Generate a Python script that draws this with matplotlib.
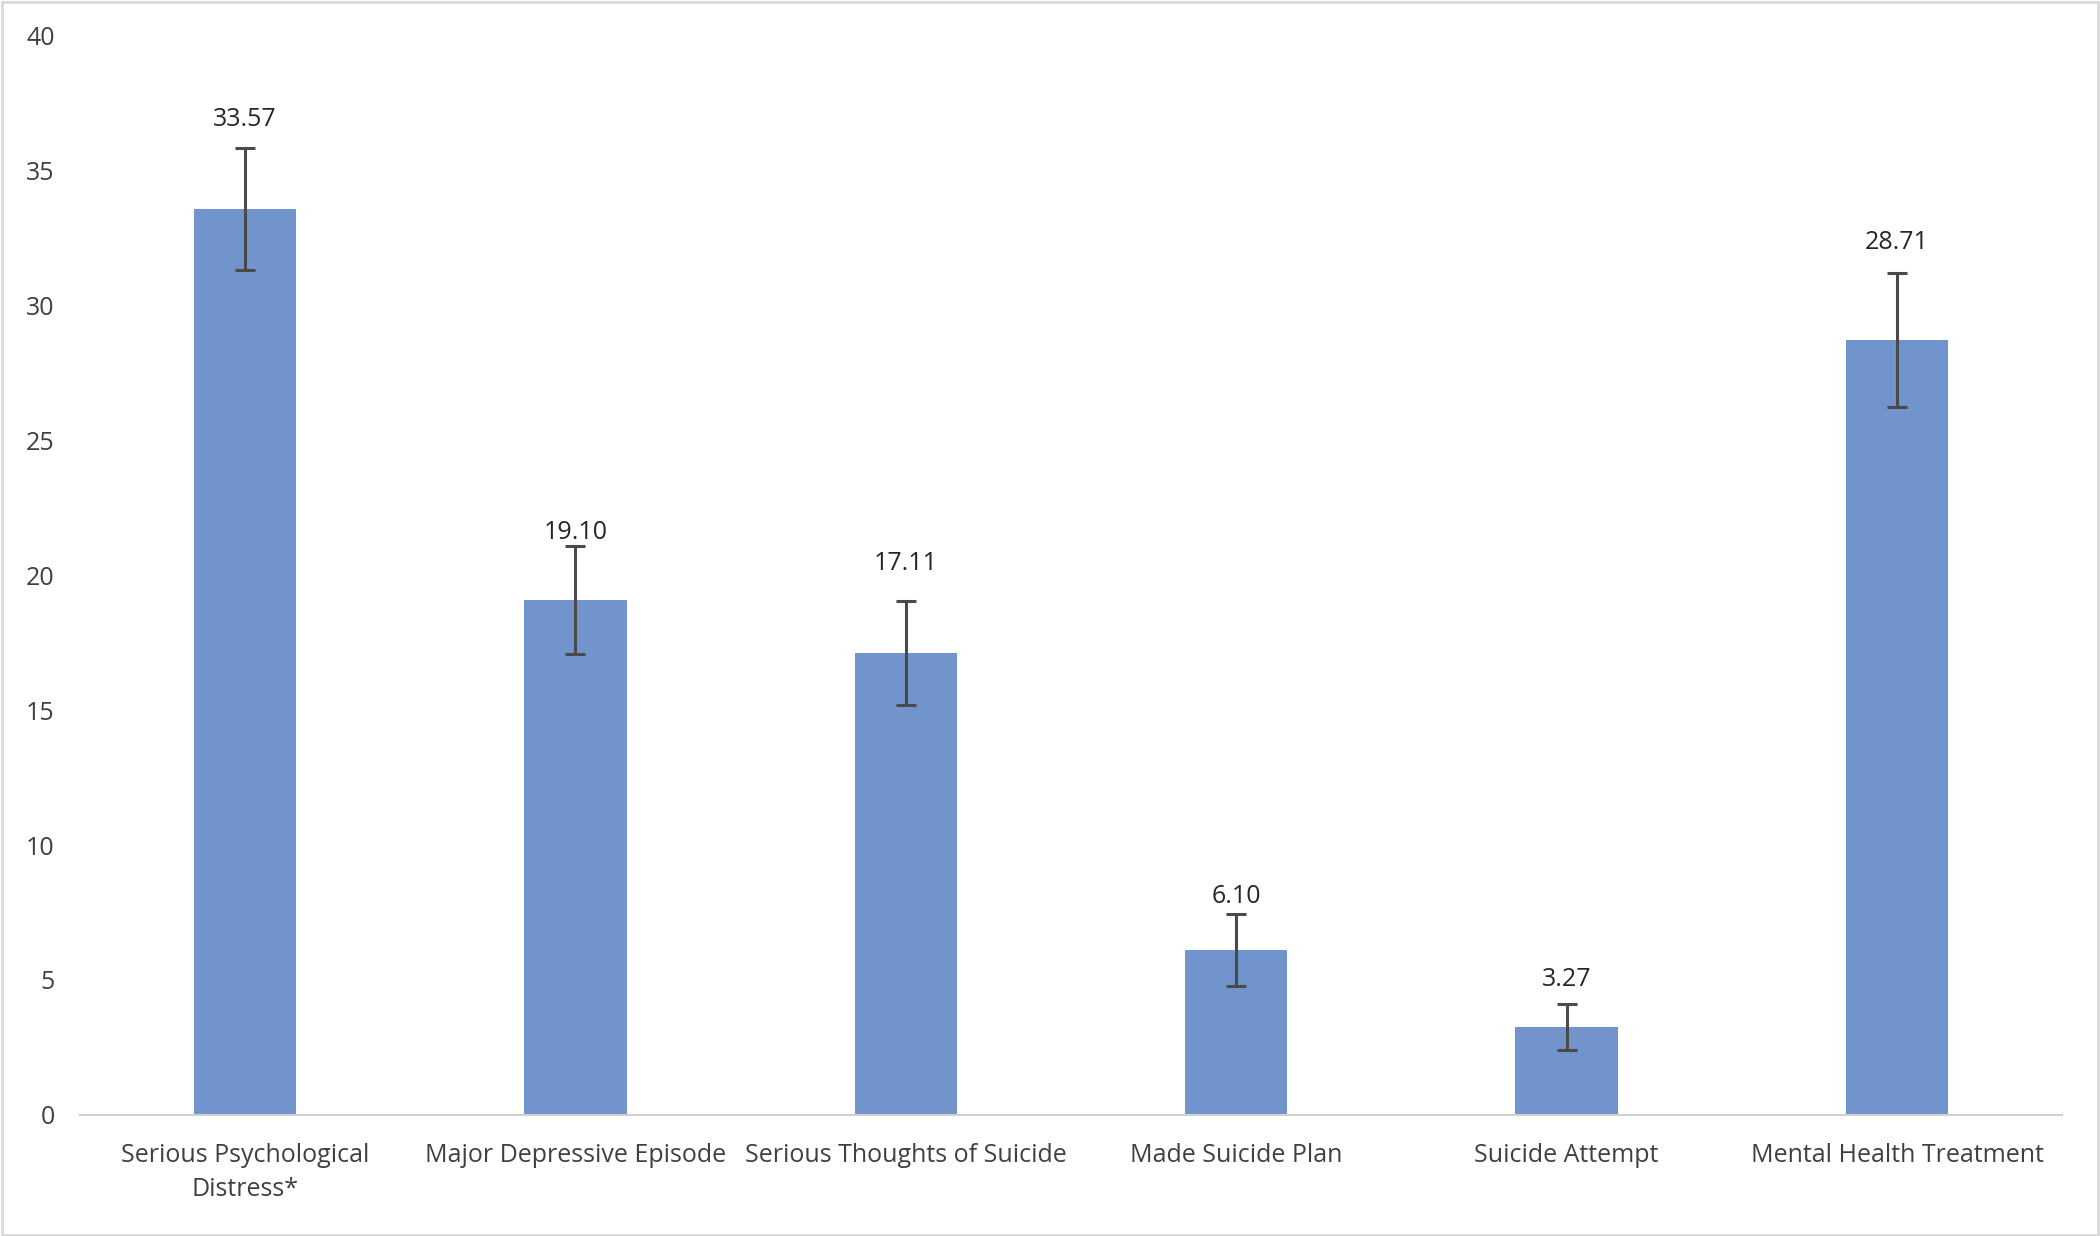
import numpy as np
import matplotlib.pyplot as plt
from matplotlib.patches import Rectangle

categories = ["Serious Psychological\nDistress*", "Major Depressive Episode",
              "Serious Thoughts of Suicide", "Made Suicide Plan",
              "Suicide Attempt", "Mental Health Treatment"]
values = [33.57, 19.10, 17.11, 6.10, 3.27, 28.71]
errors = [2.26, 2.0, 1.93, 1.34, 0.85, 2.48]
labels = ["33.57", "19.10", "17.11", "6.10", "3.27", "28.71"]
# where the value labels sit (data units), as placed in the original
label_y = [36.9, 21.6, 20.45, 8.1, 5.0, 32.35]

plt.rcParams['font.family'] = ['Open Sans', 'DejaVu Sans']

fig = plt.figure(figsize=(21, 12.36), dpi=100)
ax = fig.add_axes([0.038, 0.098, 0.944, 0.873])

x = np.arange(len(categories))
ax.bar(x, values, width=0.31, color='#7294CC', zorder=2)
ax.errorbar(x, values, yerr=errors, fmt='none', ecolor='#4a4a4a',
            elinewidth=2.2, capsize=7, capthick=2.2, zorder=3)

for xi, ly, lab in zip(x, label_y, labels):
    ax.text(xi, ly, lab, ha='center', va='center',
            fontsize=18, color='#262626')

ax.set_xlim(-0.5, 5.5)
ax.set_ylim(0, 40)
ax.set_yticks(range(0, 41, 5))
ax.set_xticks(x)
ax.set_xticklabels(categories, fontsize=18, color='#404040', linespacing=1.5)
ax.tick_params(axis='y', labelsize=18, labelcolor='#404040', length=0, pad=18)
ax.tick_params(axis='x', length=0, pad=20)
for s in ['top', 'right', 'left']:
    ax.spines[s].set_visible(False)
ax.spines['bottom'].set_color('#d0d0d0')
ax.spines['bottom'].set_linewidth(1.5)

fig.patches.append(Rectangle((0.001, 0.001), 0.998, 0.997, transform=fig.transFigure,
                             fill=False, edgecolor='#d9d9d9', linewidth=2))

fig.savefig('out.png', dpi=100)
